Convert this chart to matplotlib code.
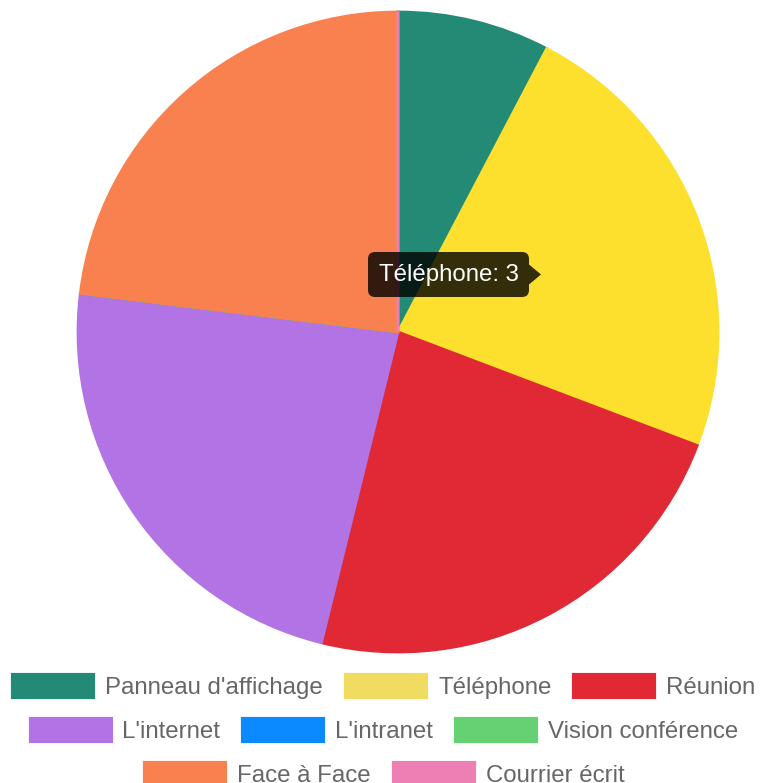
import matplotlib
matplotlib.use("Agg")
import matplotlib.pyplot as plt
from matplotlib.patches import Rectangle, FancyBboxPatch, Polygon

plt.rcParams['font.family'] = ['Liberation Sans', 'DejaVu Sans']

# ── Données ──────────────────────────────────────────────────────────────────
labels = ["Panneau d'affichage", "Téléphone", "Réunion", "L'internet",
          "L'intranet", "Vision conférence", "Face à Face", "Courrier écrit"]
values = [1, 3, 3, 3, 0, 0, 3, 0]
colors = ['#238a75', '#efdc60', '#e02934', '#b273e5',
          '#0b89fe', '#66d173', '#f8814f', '#ee7fb4']
hover_index = 1            # part survolée (Téléphone)
hover_color = '#fde02e'
legend_rows = [[0, 1, 2], [3, 4, 5], [6, 7]]

W, H = 766, 783
fig = plt.figure(figsize=(W / 100, H / 100), dpi=100)

# ── Camembert ────────────────────────────────────────────────────────────────
cx, cy, r = 398, 332, 320
ax = fig.add_axes([(cx - r) / W, (H - cy - r) / H, 2 * r / W, 2 * r / H])
slice_colors = list(colors)
slice_colors[hover_index] = hover_color
wedges, _ = ax.pie(values, colors=slice_colors, startangle=90, counterclock=False,
                   radius=1.0)
for w, c in zip(wedges, slice_colors):
    w.set_edgecolor(c)
    w.set_linewidth(2.0)
ax.set_xlim(-1, 1)
ax.set_ylim(-1, 1)
ax.set_aspect('equal')
ax.axis('off')

# ── Calque en pixels pour la légende et l'infobulle ──────────────────────────
ov = fig.add_axes([0, 0, 1, 1], zorder=5)
ov.set_xlim(0, W)
ov.set_ylim(H, 0)
ov.axis('off')

renderer = fig.canvas.get_renderer()
fs = 17.3
box_w, box_h = 85, 27
gap_text, gap_item = 10, 20
row_y = [685.5, 729.5, 773.0]

for row, y in zip(legend_rows, row_y):
    widths = []
    for i in row:
        t = ov.text(0, 0, labels[i], fontsize=fs)
        widths.append(t.get_window_extent(renderer).width)
        t.remove()
    total = sum(box_w + gap_text + tw for tw in widths) + gap_item * (len(row) - 1)
    x = (W - total) / 2
    for i, tw in zip(row, widths):
        ov.add_patch(Rectangle((x, y - box_h / 2), box_w, box_h,
                               facecolor=colors[i], edgecolor='white', linewidth=0.6))
        ov.text(x + box_w + gap_text, y, labels[i], fontsize=fs, color='#666666',
                va='center_baseline', ha='left')
        x += box_w + gap_text + tw + gap_item

# ── Infobulle ────────────────────────────────────────────────────────────────
tip_text = f"{labels[hover_index]}: {values[hover_index]}"
tx0, tx1, ty0, ty1 = 368, 529, 252, 297
ov.add_patch(FancyBboxPatch((tx0, ty0), tx1 - tx0, ty1 - ty0,
                            boxstyle="round,pad=0,rounding_size=7",
                            facecolor=(0, 0, 0, 0.8), edgecolor='none'))
ym = (ty0 + ty1) / 2
ov.add_patch(Polygon([(tx1, ym - 10), (tx1 + 12, ym), (tx1, ym + 10)],
                     closed=True, facecolor=(0, 0, 0, 0.8), edgecolor='none'))
ov.text((tx0 + tx1) / 2, ym, tip_text, fontsize=fs, color='white',
        ha='center', va='center')

fig.savefig("out.png", dpi=100)
